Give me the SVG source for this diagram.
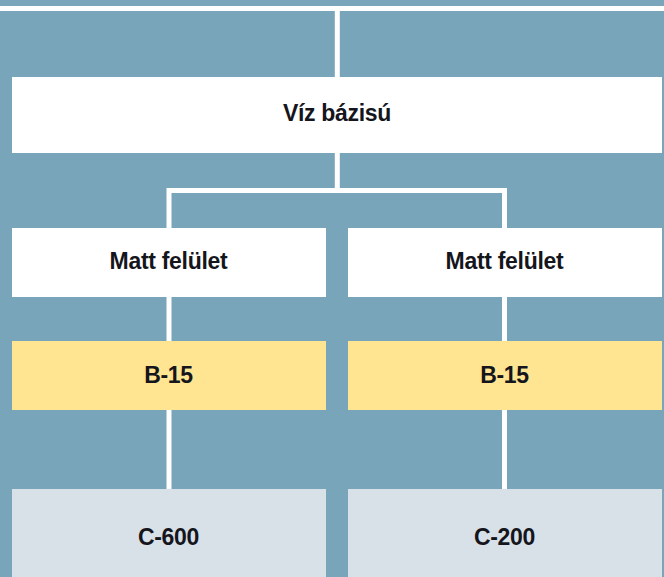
<svg xmlns="http://www.w3.org/2000/svg" width="664" height="577" viewBox="0 0 664 577">
  <style>
    .bg { fill: #78a5b9; }
    .white { fill: #ffffff; }
    .yellow { fill: #ffe492; }
    .grey { fill: #d8e0e8; }
    .lbl { font-family: "Liberation Sans", Arial, sans-serif; font-weight: bold; font-size: 23px; fill: #15151c; text-anchor: middle; letter-spacing: -0.3px; }
    .conn { stroke: #ffffff; stroke-width: 5; fill: none; stroke-linecap: butt; stroke-linejoin: miter; }
  </style>
  <rect class="bg" x="0" y="0" width="664" height="577"/>
  <g id="connectors">
    <line class="conn" x1="0" y1="8.5" x2="664" y2="8.5"/>
    <line class="conn" x1="337.3" y1="8.5" x2="337.3" y2="77"/>
    <line class="conn" x1="337.3" y1="153" x2="337.3" y2="190.5"/>
    <polyline class="conn" points="169,228 169,190.5 504.5,190.5 504.5,228"/>
    <line class="conn" x1="169" y1="297" x2="169" y2="341"/>
    <line class="conn" x1="504.5" y1="297" x2="504.5" y2="341"/>
    <line class="conn" x1="169" y1="410" x2="169" y2="489"/>
    <line class="conn" x1="504.5" y1="410" x2="504.5" y2="489"/>
  </g>
  <g id="node-viz">
    <rect class="white" x="12" y="77" width="650" height="76"/>
    <text class="lbl" x="337" y="120.7">Víz bázisú</text>
  </g>
  <g id="node-matt-left">
    <rect class="white" x="12" y="228" width="314" height="69"/>
    <text class="lbl" x="168.5" y="269.3">Matt felület</text>
  </g>
  <g id="node-matt-right">
    <rect class="white" x="348" y="228" width="314" height="69"/>
    <text class="lbl" x="504.5" y="269.3">Matt felület</text>
  </g>
  <g id="node-b15-left">
    <rect class="yellow" x="12" y="341" width="314" height="69"/>
    <text class="lbl" x="168.5" y="382.7">B-15</text>
  </g>
  <g id="node-b15-right">
    <rect class="yellow" x="348" y="341" width="314" height="69"/>
    <text class="lbl" x="504.5" y="382.7">B-15</text>
  </g>
  <g id="node-c600">
    <rect class="grey" x="12" y="489" width="314" height="88"/>
    <text class="lbl" x="168.5" y="544.5">C-600</text>
  </g>
  <g id="node-c200">
    <rect class="grey" x="348" y="489" width="314" height="88"/>
    <text class="lbl" x="504.5" y="544.5">C-200</text>
  </g>
</svg>
